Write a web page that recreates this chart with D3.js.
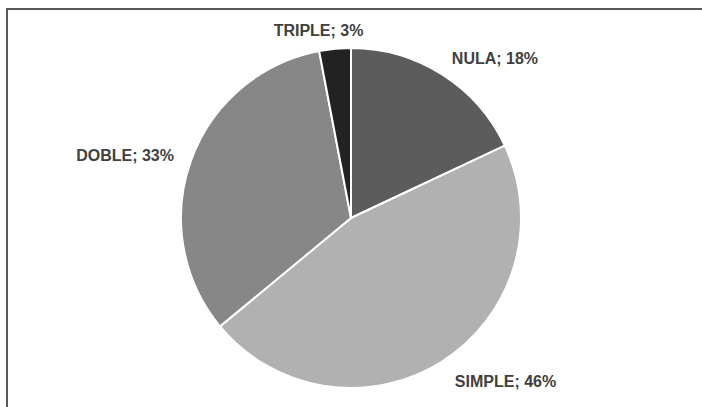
<!DOCTYPE html>
<html><head><meta charset="utf-8">
<script src="https://cdn.jsdelivr.net/npm/d3@7"></script>
<style>html,body{margin:0;padding:0;background:#fff;overflow:hidden}</style>
</head><body>
<svg id="chart" width="702" height="407"></svg>
<script>
const categories = ["NULA", "SIMPLE", "DOBLE", "TRIPLE"];
const values = [18, 46, 33, 3];
const labels = ["NULA; 18%", "SIMPLE; 46%", "DOBLE; 33%", "TRIPLE; 3%"];
const colors = ["#5c5c5c", "#b1b1b1", "#878787", "#222222"];
// label anchor offsets relative to pie centre, in units of radius
const labelOffsets = [[0.847, -0.906], [0.909, 0.994], [-1.329, -0.335], [-0.191, -1.068]];

const W = 702, H = 407;
const cx = 351, cy = 218, r = 170;
const svg = d3.select("#chart");

svg.append("rect").attr("x", 7).attr("y", 9).attr("width", W + 10).attr("height", H + 10)
  .attr("fill", "#fff").attr("stroke", "#595959").attr("stroke-width", 2);

const pie = d3.pie().sort(null).value(d => d)(values);
const arc = d3.arc().innerRadius(0).outerRadius(r);
const g = svg.append("g").attr("transform", `translate(${cx},${cy})`);
g.selectAll("path").data(pie).join("path")
  .attr("d", arc)
  .attr("fill", (d, i) => colors[i])
  .attr("stroke", "#fff").attr("stroke-width", 2).attr("stroke-linejoin", "round");

g.selectAll("text").data(pie).join("text")
  .attr("x", (d, i) => labelOffsets[i][0] * r)
  .attr("y", (d, i) => labelOffsets[i][1] * r)
  .attr("text-anchor", "middle")
  .attr("font-family", "'Liberation Sans', Arial, sans-serif")
  .attr("font-weight", "bold").attr("font-size", 16)
  .attr("fill", "#404040")
  .text((d, i) => labels[i]);
</script>
</body></html>
